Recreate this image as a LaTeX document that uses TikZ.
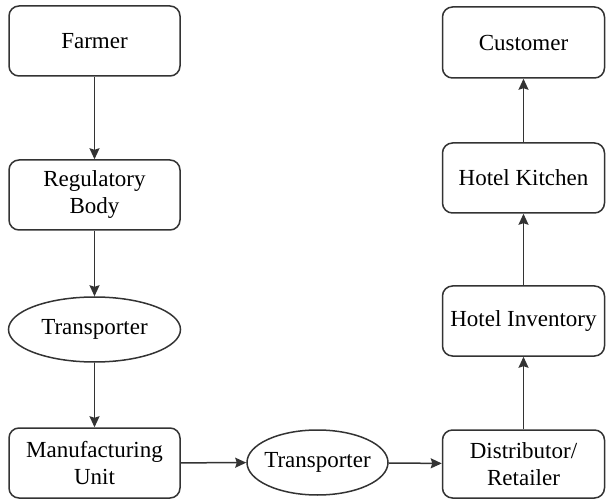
\documentclass[tikz,border=0pt]{standalone}
\usepackage{fontspec}
\setmainfont{Liberation Serif}
\usetikzlibrary{shapes.geometric,arrows.meta}
\tikzset{
  stage/.style={draw=black!80, line width=1.5pt, rounded corners=10pt,
    inner sep=0pt, align=center, font=\fontsize{23}{27}\selectfont},
  carrier/.style={draw=black!80, line width=1.5pt, ellipse, inner sep=0pt,
    font=\fontsize{23}{27}\selectfont},
  flow/.style={draw=black!80, line width=1.5pt,
    -{Stealth[length=11pt,width=10pt,inset=1.5pt]}}
}
\newcommand{\zw}[1]{\makebox[0pt][c]{#1}}
\begin{document}
\begin{tikzpicture}[x=1pt,y=-1pt]
\useasboundingbox (0,0) rectangle (606,500);
% left column
\node[stage, minimum width=171pt, minimum height=70pt] (farmer) at (94.5,41) {Farmer};
\node[stage, minimum width=171pt, minimum height=70pt] (reg) at (94.5,195) {Regulatory\\Body};
\node[carrier, minimum width=172pt, minimum height=65pt] (tr1) at (94.5,329.5) {\zw{Transporter}};
\node[stage, minimum width=171pt, minimum height=70pt] (manu) at (94.5,463) {Manufacturing\\Unit};
% bottom middle
\node[carrier, minimum width=141pt, minimum height=65pt] (tr2) at (317.5,462.5) {\zw{Transporter}};
% right column
\node[stage, minimum width=162pt, minimum height=68pt] (dist) at (523.5,464) {Distributor/\\Retailer};
\node[stage, minimum width=162pt, minimum height=70pt] (inv) at (523.5,321) {Hotel Inventory};
\node[stage, minimum width=162pt, minimum height=70pt] (kitchen) at (523.5,178) {Hotel Kitchen};
\node[stage, minimum width=162pt, minimum height=71pt] (cust) at (523.5,42.5) {Customer};
% connectors
\draw[flow] (farmer) -- (reg);
\draw[flow] (reg) -- (tr1);
\draw[flow] (tr1) -- (manu);
\draw[flow] (manu) -- (tr2);
\draw[flow] (tr2) -- (dist);
\draw[flow] (dist) -- (inv);
\draw[flow] (inv) -- (kitchen);
\draw[flow] (kitchen) -- (cust);
\end{tikzpicture}
\end{document}
